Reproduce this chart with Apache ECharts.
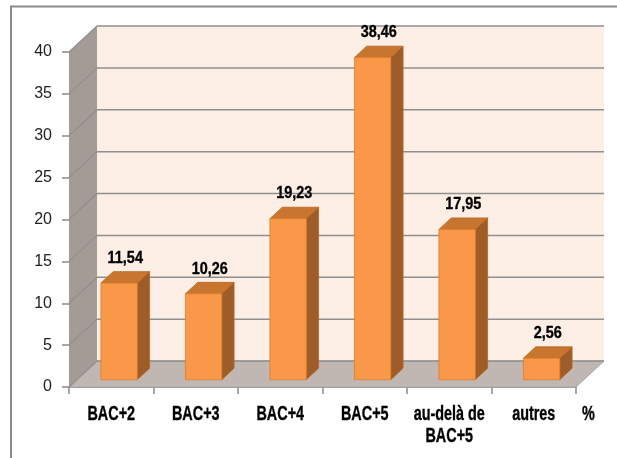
<!DOCTYPE html>
<html>
<head>
<meta charset="utf-8">
<script src="https://cdn.jsdelivr.net/npm/echarts@6/dist/echarts.min.js"></script>
<style>
  html, body { margin: 0; padding: 0; background: #ffffff; }
  #chart { width: 617px; height: 458px; }
</style>
</head>
<body>
<div id="chart"></div>
<script>
// Diplômes : répartition en pourcentage
const categories = ['BAC+2', 'BAC+3', 'BAC+4', 'BAC+5', 'au-delà de\nBAC+5', 'autres'];
const values = [11.54, 10.26, 19.23, 38.46, 17.95, 2.56];
const yMin = 0;
const yMax = 40;
const yStep = 5;
const axisUnit = '%';

// perspective offset of the back wall relative to the front plane
const DEPTH_X = 28;
const DEPTH_Y = -26;
// bar occupies this slice of the depth
const BAR_FRONT = 0.28;
const BAR_BACK = 0.72;

function fmt(v) {
  return v.toFixed(2).replace('.', ',');
}

// bold text squeezed horizontally to get a narrow face
function squeezedText(x, y, text, align, vAlign, size, squeeze, lineHeight) {
  return {
    type: 'text',
    x: x,
    y: y,
    scaleX: squeeze,
    style: {
      x: 0,
      y: 0,
      text: text,
      align: align,
      verticalAlign: vAlign,
      lineHeight: lineHeight,
      fill: '#000000',
      stroke: '#000000',
      lineWidth: 0.35,
      fontSize: size,
      fontWeight: 'bold',
      fontFamily: '"Liberation Sans", Arial, sans-serif'
    }
  };
}

const chart = echarts.init(document.getElementById('chart'), null, { renderer: 'canvas' });

// walls, floor, gridlines of the 3D box and the unit at the end of the category axis
function renderWalls(params, api) {
  const band = api.size([1, 0])[0];
  const base = api.coord([0, yMin]);
  const left = base[0] - band / 2;
  const right = api.coord([categories.length - 1, yMin])[0] + band / 2;
  const yBottom = base[1];
  const yTop = api.coord([0, yMax])[1];
  const children = [];

  children.push({
    type: 'rect',
    shape: { x: left + DEPTH_X, y: yTop + DEPTH_Y, width: right - left, height: yBottom - yTop },
    style: { fill: '#fdeee6' }
  });
  children.push({
    type: 'polygon',
    shape: { points: [[left, yTop], [left + DEPTH_X, yTop + DEPTH_Y], [left + DEPTH_X, yBottom + DEPTH_Y], [left, yBottom]] },
    style: { fill: '#a59b96' }
  });
  children.push({
    type: 'polygon',
    shape: { points: [[left, yBottom], [left + DEPTH_X, yBottom + DEPTH_Y], [right + DEPTH_X, yBottom + DEPTH_Y], [right, yBottom]] },
    style: { fill: '#c1b7b2', stroke: '#a8a8a8', lineWidth: 1 }
  });

  for (let v = yMin; v <= yMax; v += yStep) {
    const y = api.coord([0, v])[1];
    children.push({
      type: 'line',
      shape: { x1: left + DEPTH_X, y1: y + DEPTH_Y, x2: right + DEPTH_X, y2: y + DEPTH_Y },
      style: { stroke: '#8f8f8f', lineWidth: 1.5 }
    });
    children.push({
      type: 'line',
      shape: { x1: left, y1: y, x2: left + DEPTH_X, y2: y + DEPTH_Y },
      style: { stroke: '#8f8f8f', lineWidth: 1.2 }
    });
  }

  children.push(squeezedText(right + 6, yBottom + 16, axisUnit, 'left', 'top', 20, 0.72, 22));
  return { type: 'group', children: children };
}

// one 3D bar per category, with its value above and its category name below the axis
function renderBar(params, api) {
  const idx = api.value(0);
  const val = api.value(1);
  const band = api.size([1, 0])[0];
  const w = band * 0.43;
  const p0 = api.coord([idx, yMin]);
  const p1 = api.coord([idx, val]);
  const fdx = DEPTH_X * BAR_FRONT, fdy = DEPTH_Y * BAR_FRONT;
  const ddx = DEPTH_X * (BAR_BACK - BAR_FRONT), ddy = DEPTH_Y * (BAR_BACK - BAR_FRONT);
  const xl = p0[0] - w / 2 + fdx;
  const xr = xl + w;
  const yt = p1[1] + fdy;
  const yb = p0[1] + fdy;

  return {
    type: 'group',
    children: [
      {
        type: 'polygon',
        shape: { points: [[xr, yt], [xr + ddx, yt + ddy], [xr + ddx, yb + ddy], [xr, yb]] },
        style: { fill: '#9d5c28', stroke: '#b8661f', lineWidth: 0.8 }
      },
      {
        type: 'polygon',
        shape: { points: [[xl, yt], [xl + ddx, yt + ddy], [xr + ddx, yt + ddy], [xr, yt]] },
        style: { fill: '#c8752f', stroke: '#b8661f', lineWidth: 0.8 }
      },
      {
        type: 'rect',
        shape: { x: xl, y: yt, width: w, height: yb - yt },
        style: { fill: '#f89848', stroke: '#e07c2c', lineWidth: 0.8 }
      },
      squeezedText((xl + xr) / 2 + ddx / 2, yt + ddy - 13.5, fmt(val), 'center', 'middle', 17, 0.85, 18),
      squeezedText(p0[0], p0[1] + 16, categories[idx], 'center', 'top', 20, 0.72, 22)
    ]
  };
}

const option = {
  animation: false,
  backgroundColor: '#ffffff',
  grid: { left: 69, right: 41, top: 52, bottom: 71 },
  xAxis: {
    type: 'category',
    data: categories,
    boundaryGap: true,
    axisLine: { show: true, lineStyle: { color: '#9a9a9a', width: 1 } },
    axisTick: { show: true, alignWithLabel: false, length: 7, lineStyle: { color: '#8a8a8a', width: 1.5 } },
    axisLabel: { show: false },
    splitLine: { show: false }
  },
  yAxis: {
    type: 'value',
    min: yMin,
    max: yMax,
    interval: yStep,
    axisLine: { show: false },
    axisTick: { show: true, length: 7, lineStyle: { color: '#8a8a8a', width: 1.5 } },
    axisLabel: {
      margin: 17,
      color: '#222222',
      fontFamily: '"Liberation Sans", Arial, sans-serif',
      fontSize: 16
    },
    splitLine: { show: false }
  },
  graphic: [
    {
      type: 'line',
      shape: { x1: 10, y1: 6.5, x2: 617, y2: 6.5 },
      style: { stroke: '#8a8a8a', lineWidth: 2 },
      silent: true
    },
    {
      type: 'line',
      shape: { x1: 11, y1: 6, x2: 11, y2: 458 },
      style: { stroke: '#8a8a8a', lineWidth: 2 },
      silent: true
    }
  ],
  series: [
    {
      type: 'custom',
      name: 'walls',
      silent: true,
      clip: false,
      z: 1,
      renderItem: renderWalls,
      data: [[0, yMin]],
      encode: { x: 0, y: 1 }
    },
    {
      type: 'custom',
      name: 'Diplômes',
      clip: false,
      z: 3,
      renderItem: renderBar,
      data: values.map(function (v, i) { return [i, v]; }),
      encode: { x: 0, y: 1 }
    }
  ]
};

chart.setOption(option);
</script>
</body>
</html>
